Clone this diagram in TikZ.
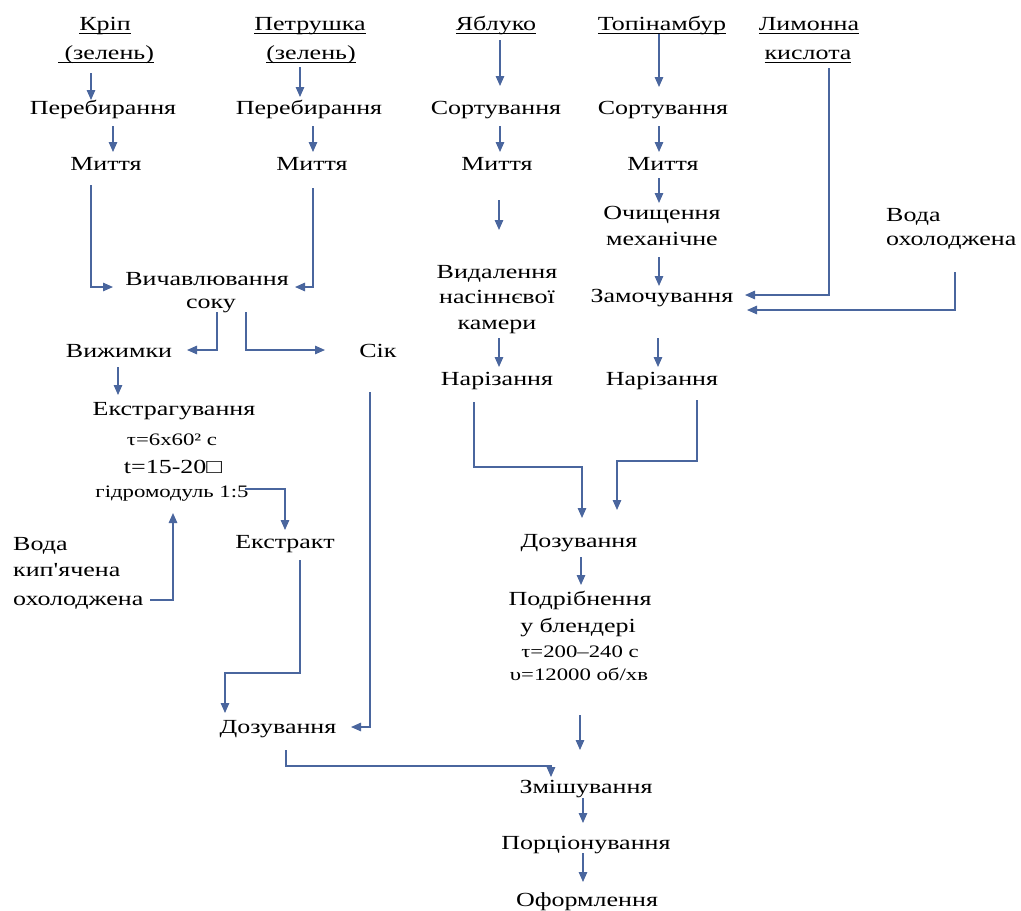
\documentclass[tikz,border=0pt]{standalone}
\usepackage{fontspec}
\setmainfont{Liberation Serif}[FakeStretch=1.3]
\newfontfamily\apfont{Liberation Serif}[FakeStretch=1.3]
\usetikzlibrary{arrows.meta,calc}
\definecolor{arrowblue}{RGB}{74,102,158}
\newsavebox\ulbox
\newcommand\ulx[1]{\sbox\ulbox{#1}\rlap{\rule[-3.6pt]{\wd\ulbox}{1.1pt}}\usebox\ulbox}
\tikzset{
  txt/.style={inner sep=0pt, anchor=base, font=\fontsize{20}{24}\selectfont},
  txtw/.style={txt, anchor=base west},
  small/.style={txt, font=\fontsize{17.5}{21}\selectfont},
  arr/.style={draw=arrowblue, line width=1.3pt, -{Triangle[length=10pt,width=8.5pt]}, fill=none},
}
\begin{document}
\begin{tikzpicture}[x=1pt,y=-1pt]
\useasboundingbox[fill=white] (0,0) rectangle (1021,911);
% titles
\node[txt] (kr1) at (105,30) {\ulx{Кріп}};
\node[txt] (kr2) at (106,59) {\ulx{~(зелень)}};
\node[txt] (pe1) at (310,30) {\ulx{Петрушка}};
\node[txt] (pe2) at (311,59) {\ulx{(зелень)}};
\node[txt] (ya) at (496,30) {\ulx{Яблуко}};
\node[txt] (to) at (662,30) {\ulx{Топінамбур}};
\node[txt] (li1) at (809,30) {\ulx{Лимонна}};
\node[txt] (li2) at (808,59) {\ulx{кислота}};
% column 1-2
\node[txt] (pb1) at (103,114) {Перебирання};
\node[txt] (mi1) at (106,170) {Миття};
\node[txt] (pb2) at (309,114) {Перебирання};
\node[txt] (mi2) at (312,170) {Миття};
\node[txt] (vy1) at (207,285) {Вичавлювання};
\node[txt] (vy2) at (211,308) {соку};
\node[txt] (vzh) at (119,357) {Вижимки};
\node[txt] (sik) at (378,357) {Сік};
\node[txt] (ek1) at (174,415) {Екстрагування};
\node[small] (ek2) at (172,445) {τ=6x60² с};
\node[txt] (ek3) at (173,473) {t=15-20□};
\node[small] (ek4) at (172,497) {гідромодуль 1:5};
\node[txt] (ekt) at (285,548) {Екстракт};
\node[txtw] (vo1) at (13,550) {Вода};
\node[txtw] (vo2) at (13,576) {кип{\apfont '}ячена};
\node[txtw] (vo3) at (13,605) {охолоджена};
\node[txt] (doz1) at (278,733) {Дозування};
% column 3
\node[txt] (so1) at (496,114) {Сортування};
\node[txt] (mt3) at (497,170) {Миття};
\node[txt] (vd1) at (497,278) {Видалення};
\node[txt] (vd2) at (497,303) {насіннєвої};
\node[txt] (vd3) at (497,329) {камери};
\node[txt] (na1) at (497,385) {Нарізання};
% column 4
\node[txt] (so2) at (663,114) {Сортування};
\node[txt] (mt4) at (663,170) {Миття};
\node[txt] (oc1) at (662,219) {Очищення};
\node[txt] (oc2) at (662,245) {механічне};
\node[txt] (za) at (662,302) {Замочування};
\node[txt] (na2) at (662,385) {Нарізання};
\node[txtw] (vw1) at (886,221) {Вода};
\node[txtw] (vw2) at (886,245) {охолоджена};
% bottom
\node[txt] (doz2) at (579,547) {Дозування};
\node[txt] (po1) at (580,605) {Подрібнення};
\node[txt] (po2) at (578,632) {у блендері};
\node[small] (po3) at (580,657) {τ=200–240 с};
\node[small] (po4) at (579,680) {υ=12000 об/хв};
\node[txt] (zm) at (586,793) {Змішування};
\node[txt] (pr) at (586,849) {Порціонування};
\node[txt] (of) at (587,906) {Оформлення};
% connectors
\draw[arr] ($(kr2.base)+(-15,14)$) -- ($(pb1.base)+(-12,-14)$);
\draw[arr] ($(pb1.base)+(10,12)$) -- ($(mi1.base)+(7,-18)$);
\draw[arr] ($(pe2.base)+(-11,8)$) -- ($(pb2.base)+(-9,-17)$);
\draw[arr] ($(pb2.base)+(4,12)$) -- ($(mi2.base)+(1,-18)$);
\draw[arr] ($(mi1.base)+(-15,15)$) |- ($(vy1.base)+(-94,2)$);
\draw[arr] ($(mi2.base)+(1,18)$) |- ($(vy1.base)+(88,2)$);
\draw[arr] ($(vy2.base)+(6,4)$) |- ($(vzh.base)+(68,-7)$);
\draw[arr] ($(vy2.base)+(35,4)$) |- ($(sik.base)+(-53,-7)$);
\draw[arr] ($(vzh.base)+(-1,10)$) -- ($(ek1.base)+(-56,-20)$);
\draw[arr] ($(ek4.base)+(73,-8)$) -| ($(ekt.base)+(0,-18)$);
\draw[arr] ($(vo3.base west)+(137,-5)$) -| ($(ek4.base)+(1,16)$);
\draw[arr] ($(ekt.base)+(15,12)$) -- ($(ekt.base)+(15,125)$) -| ($(doz1.base)+(-53,-20)$);
\draw[arr] ($(sik.base)+(-8,35)$) |- ($(doz1.base)+(73,-6)$);
\draw[arr] ($(doz1.base)+(8,17)$) |- ($(zm.base)+(-35,-27)$) -- ($(zm.base)+(-35,-16)$);
\draw[arr] ($(ya.base)+(4,10)$) -- ($(so1.base)+(4,-28)$);
\draw[arr] ($(so1.base)+(4,12)$) -- ($(mt3.base)+(3,-18)$);
\draw[arr] ($(mt3.base)+(2,30)$) -- ($(vd1.base)+(2,-48)$);
\draw[arr] ($(vd3.base)+(2,9)$) -- ($(na1.base)+(2,-18)$);
\draw[arr] ($(to.base)+(-3,4)$) -- ($(so2.base)+(-4,-27)$);
\draw[arr] ($(so2.base)+(-4,12)$) -- ($(mt4.base)+(-4,-18)$);
\draw[arr] ($(mt4.base)+(-4,8)$) -- ($(oc1.base)+(-3,-16)$);
\draw[arr] ($(oc2.base)+(-3,12)$) -- ($(za.base)+(-3,-16)$);
\draw[arr] ($(za.base)+(-4,36)$) -- ($(na2.base)+(-4,-18)$);
\draw[arr] ($(li2.base)+(21,9)$) |- ($(za.base)+(83,-7)$);
\draw[arr] ($(vw2.base west)+(69,27)$) |- ($(za.base)+(85,8)$);
\draw[arr] ($(na1.base)+(-23,17)$) -- ($(na1.base)+(-23,82)$) -| ($(doz2.base)+(3,-29)$);
\draw[arr] ($(na2.base)+(35,15)$) -- ($(na2.base)+(35,76)$) -| ($(doz2.base)+(38,-37)$);
\draw[arr] ($(doz2.base)+(2,10)$) -- ($(po1.base)+(1,-20)$);
\draw[arr] ($(po4.base)+(1,35)$) -- ($(zm.base)+(-6,-43)$);
\draw[arr] ($(zm.base)+(-3,5)$) -- ($(pr.base)+(-3,-26)$);
\draw[arr] ($(pr.base)+(-3,4)$) -- ($(of.base)+(-4,-24)$);
\end{tikzpicture}
\end{document}
